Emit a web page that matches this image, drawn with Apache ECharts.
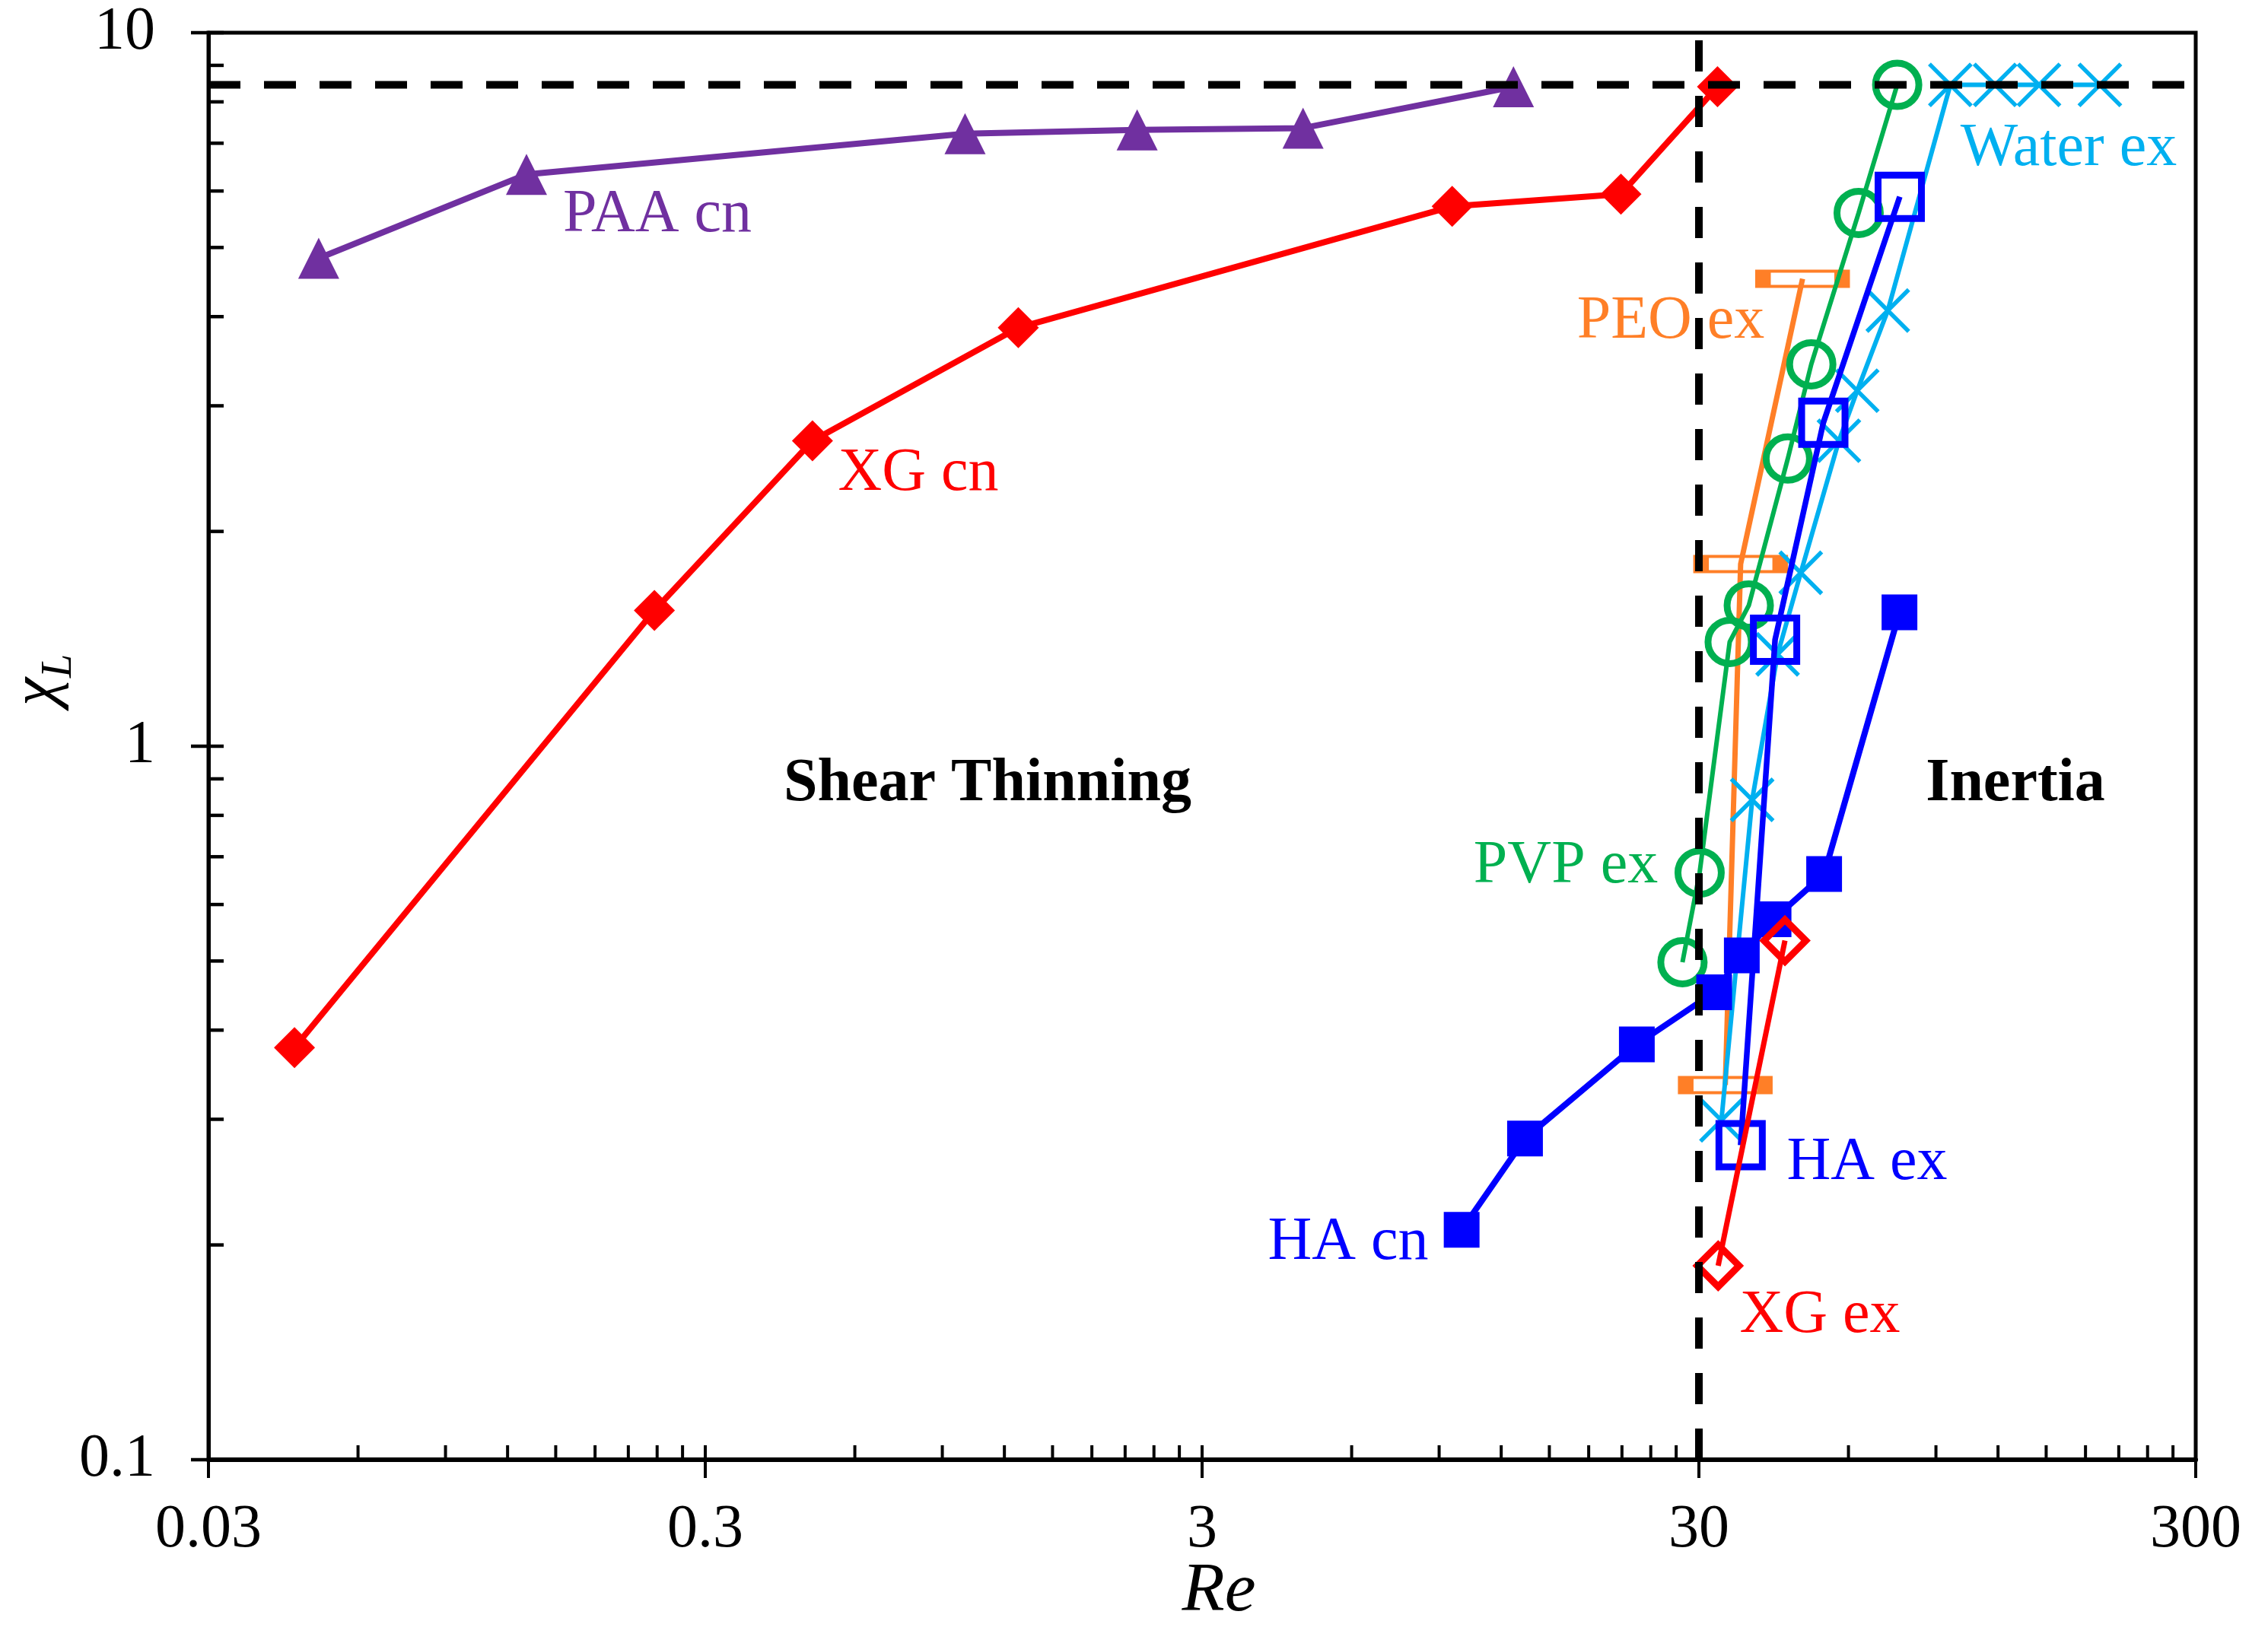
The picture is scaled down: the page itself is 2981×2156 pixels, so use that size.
<!DOCTYPE html>
<html>
<head>
<meta charset="utf-8">
<script src="https://cdn.jsdelivr.net/npm/echarts@6/dist/echarts.min.js"></script>
<style>
  html, body { margin: 0; background: #fff; }
  #chart { width: 2981px; height: 2156px; }
</style>
</head>
<body>
<div id="chart"></div>
<script>
const FONT = '"Liberation Serif", "Times New Roman", serif';

// Re and chi_L, one pair of arrays per series
const paaCnRe = [0.050, 0.131, 1.00, 2.22, 4.79, 12.7];
const paaCnChi = [4.83, 6.33, 7.22, 7.31, 7.35, 8.40];

const xgCnRe = [0.0447, 0.237, 0.493, 1.28, 9.56, 20.9, 32.7];
const xgCnChi = [0.378, 1.55, 2.68, 3.86, 5.71, 5.94, 8.40];

const haCnRe = [9.99, 13.4, 22.5, 32.2, 36.6, 42.4, 53.6, 76.0];
const haCnChi = [0.210, 0.282, 0.382, 0.452, 0.509, 0.572, 0.662, 1.54];

const xgExRe = [32.8, 44.7];
const xgExChi = [0.187, 0.534];

const haExRe = [36.4, 42.7, 53.4, 76.1];
const haExChi = [0.276, 1.41, 2.84, 5.89];

const pvpExRe = [27.8, 30.1, 34.6, 37.8, 45.3, 50.5, 62.9, 75.2];
const pvpExChi = [0.498, 0.665, 1.40, 1.575, 2.53, 3.43, 5.59, 8.45];

const peoExRe = [33.9, 36.4, 48.5];
const peoExChi = [0.335, 1.80, 4.52];

const waterExRe = [33.3, 38.4, 43.2, 48.1, 57.4, 62.5, 72.0, 96.2, 118.4, 145.1, 192.4];
const waterExChi = [0.299, 0.841, 1.345, 1.75, 2.68, 3.15, 4.08, 8.45, 8.45, 8.45, 8.45];

// regime boundaries (dashed lines)
const limitChi = 8.45;
const limitRe = 30;

// axes
const xMajorTicks = [0.03, 0.3, 3, 30, 300];
const xTickLabels = ['0.03', '0.3', '3', '30', '300'];
const yMajorTicks = [0.1, 1, 10];
const yTickLabels = ['0.1', '1', '10'];

function pairs(xs, ys) {
  return xs.map((x, i) => [x, ys[i]]);
}

// 2..9 times each decade start
function minorsOf(majors) {
  const out = [];
  for (let i = 0; i < majors.length - 1; i++) {
    for (let k = 2; k <= 9; k++) out.push(+(majors[i] * k).toPrecision(6));
  }
  return out;
}

const xMin = xMajorTicks[0], xMax = xMajorTicks[xMajorTicks.length - 1];
const yMin = yMajorTicks[0], yMax = yMajorTicks[yMajorTicks.length - 1];

const xTickData = xMajorTicks.map(v => [v, yMin, 1]).concat(minorsOf(xMajorTicks).map(v => [v, yMin, 0]));
const yTickData = yMajorTicks.map(v => [xMin, v, 1]).concat(minorsOf(yMajorTicks).map(v => [xMin, v, 0]));

function textStyle(text, font, align, vAlign) {
  return {
    text, font, fill: '#000',
    align, textAlign: align,
    verticalAlign: vAlign, textVerticalAlign: vAlign
  };
}

function lineSeries(name, re, chi, color, width, symbol, size, hollow, z) {
  const itemStyle = hollow
    ? { color: 'rgba(0,0,0,0)', borderColor: color, borderWidth: hollow }
    : { color: color, borderWidth: 0 };
  return {
    name, type: 'line', data: pairs(re, chi), z,
    symbol, symbolSize: size, showSymbol: true,
    itemStyle,
    lineStyle: { color: color, width: width },
    emphasis: { disabled: true }
  };
}

const labels = [
  { text: 'PAA cn', x: 864, y: 283, color: '#7030A0' },
  { text: 'XG cn', x: 1207, y: 623, color: '#FF0000' },
  { text: 'HA cn', x: 1772, y: 1634, color: '#0000FF' },
  { text: 'XG ex', x: 2392, y: 1730, color: '#FF0000' },
  { text: 'HA ex', x: 2454, y: 1529, color: '#0000FF' },
  { text: 'PVP ex', x: 2058, y: 1139, color: '#00B050' },
  { text: 'PEO ex', x: 2196, y: 423, color: '#FF7F27' },
  { text: 'Water ex', x: 2719, y: 196, color: '#00B0F0' },
  { text: 'Shear Thinning', x: 1298, y: 1031, color: '#000', bold: true },
  { text: 'Inertia', x: 2649, y: 1031, color: '#000', bold: true }
];

const chart = echarts.init(document.getElementById('chart'), null, { renderer: 'canvas', devicePixelRatio: 1 });

chart.setOption({
  animation: false,
  backgroundColor: '#fff',
  grid: {
    left: 274, right: 95, top: 43, bottom: 237,
    show: true, borderColor: '#000', borderWidth: 5, backgroundColor: 'transparent'
  },
  xAxis: {
    type: 'log', logBase: 10, min: xMin, max: xMax,
    axisLine: { show: true, lineStyle: { color: '#000', width: 6 } },
    axisTick: { show: false }, axisLabel: { show: false },
    splitLine: { show: false }, minorTick: { show: false },
    name: 'Re', nameLocation: 'middle', nameGap: 128,
    nameTextStyle: { fontFamily: FONT, fontStyle: 'italic', fontSize: 92, color: '#000', padding: [0, 0, 0, 44] }
  },
  yAxis: {
    type: 'log', logBase: 10, min: yMin, max: yMax,
    axisLine: { show: true, lineStyle: { color: '#000', width: 5 } },
    axisTick: { show: false }, axisLabel: { show: false },
    splitLine: { show: false }, minorTick: { show: false },
    name: '{a|χ}{b|L}', nameLocation: 'middle', nameRotate: 90, nameGap: 168,
    nameTextStyle: {
      color: '#000', padding: [0, 0, 0, 174],
      rich: {
        a: { fontFamily: FONT, fontStyle: 'italic', fontSize: 84, color: '#000', verticalAlign: 'bottom', padding: [0, 0, 14, 0] },
        b: { fontFamily: FONT, fontStyle: 'italic', fontSize: 56, color: '#000', verticalAlign: 'bottom' }
      }
    }
  },
  graphic: labels.map(l => ({
    type: 'text', x: l.x, y: l.y, z: 100, silent: true,
    style: Object.assign(textStyle(l.text, (l.bold ? 'bold ' : '') + '80px ' + FONT, 'center', 'middle'), { fill: l.color })
  })),
  series: [
    lineSeries('PEO ex', peoExRe, peoExChi, '#FF7F27', 7, 'rect', [104, 20], 9, 2),
    lineSeries('Water ex', waterExRe, waterExChi, '#00B0F0', 6, 'path://M0 0L10 10M10 0L0 10', 55, 5.5, 3),
    lineSeries('PVP ex', pvpExRe, pvpExChi, '#00B050', 6, 'circle', 57, 9, 4),
    lineSeries('HA ex', haExRe, haExChi, '#0000FF', 7.5, 'rect', 57, 9, 5),
    lineSeries('HA cn', haCnRe, haCnChi, '#0000FF', 8, 'rect', 47, 0, 6),
    lineSeries('XG cn', xgCnRe, xgCnChi, '#FF0000', 8, 'diamond', 54, 0, 7),
    lineSeries('PAA cn', paaCnRe, paaCnChi, '#7030A0', 8, 'triangle', 54, 0, 8),
    lineSeries('XG ex', xgExRe, xgExChi, '#FF0000', 7, 'diamond', 55, 9, 9),
    {
      name: 'limit chi', type: 'line', z: 20, symbol: 'none', silent: true,
      data: [[xMin, limitChi], [xMax, limitChi]],
      lineStyle: { color: '#000', width: 10, type: [42, 31], cap: 'butt' }
    },
    {
      name: 'limit Re', type: 'line', z: 20, symbol: 'none', silent: true,
      data: [[limitRe, yMin], [limitRe, yMax]],
      lineStyle: { color: '#000', width: 10, type: [41, 32], cap: 'butt' }
    },
    {
      name: 'x ticks', type: 'custom', z: 30, silent: true, clip: false,
      data: xTickData,
      renderItem: (params, api) => {
        const p = api.coord([api.value(0), api.value(1)]);
        const major = api.value(2) === 1;
        return {
          type: 'line',
          shape: { x1: p[0], y1: p[1] + (major ? 24 : 0), x2: p[0], y2: p[1] - 19 },
          style: { stroke: '#000', lineWidth: 4 }
        };
      }
    },
    {
      name: 'y ticks', type: 'custom', z: 30, silent: true, clip: false,
      data: yTickData,
      renderItem: (params, api) => {
        const p = api.coord([api.value(0), api.value(1)]);
        const major = api.value(2) === 1;
        return {
          type: 'line',
          shape: { x1: p[0] - (major ? 23 : 0), y1: p[1], x2: p[0] + 20, y2: p[1] },
          style: { stroke: '#000', lineWidth: 4.5 }
        };
      }
    },
    {
      name: 'x labels', type: 'custom', z: 30, silent: true, clip: false,
      data: xMajorTicks.map(v => [v, yMin]),
      renderItem: (params, api) => {
        const p = api.coord([api.value(0), api.value(1)]);
        return {
          type: 'text', x: p[0], y: p[1] + 93,
          style: textStyle(xTickLabels[params.dataIndex], '80px ' + FONT, 'center', 'middle')
        };
      }
    },
    {
      name: 'y labels', type: 'custom', z: 30, silent: true, clip: false,
      data: yMajorTicks.map(v => [xMin, v]),
      renderItem: (params, api) => {
        const p = api.coord([api.value(0), api.value(1)]);
        return {
          type: 'text', x: p[0] - 70, y: p[1],
          style: textStyle(yTickLabels[params.dataIndex], '80px ' + FONT, 'right', 'middle')
        };
      }
    }
  ]
});

window.addEventListener('resize', () => chart.resize());
</script>
</body>
</html>
